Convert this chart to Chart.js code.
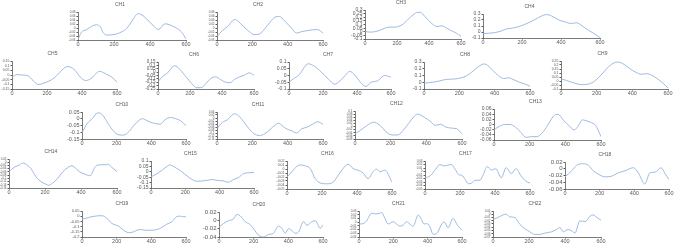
<!doctype html>
<html lang="en">
<head>
<title>Channels</title>
<script src="https://cdn.jsdelivr.net/npm/chart.js"></script>
<style>
  body { margin: 0; background: #fff; width: 678px; height: 251px; position: relative; overflow: hidden; }
  canvas { position: absolute; }
</style>
</head>
<body>
<script>
// channel names
const names = ['CH1','CH2','CH3','CH4','CH5','CH6','CH7','CH8','CH9','CH10','CH11',
               'CH12','CH13','CH14','CH15','CH16','CH17','CH18','CH19','CH20','CH21','CH22'];
const xTicks = [0, 200, 400, 600];

// sample positions and values
const ch1x = [0, 19, 46, 75, 102, 125, 139, 158, 214, 245, 269, 300, 334, 350, 381, 420, 446, 483, 529, 576, 600];
const ch1y = [-0.058, -0.021, -0.009, 0.008, 0.016, 0.005, -0.022, -0.035, -0.030, -0.018, -0.004, 0.035, 0.072, 0.068, 0.046, 0.010, -0.008, 0.021, 0.008, -0.021, -0.055];
const ch2x = [0, 30, 60, 90, 100, 120, 150, 180, 210, 240, 270, 300, 330, 350, 360, 390, 420, 450, 480, 510, 540, 570, 600];
const ch2y = [-0.043, -0.013, 0.007, 0.038, 0.043, 0.034, 0.007, -0.016, -0.033, -0.030, -0.004, 0.029, 0.055, 0.058, 0.055, 0.029, 0.001, -0.025, -0.018, -0.013, -0.009, -0.008, -0.025];
const ch3x = [0, 30, 60, 90, 120, 150, 180, 210, 240, 270, 300, 330, 345, 360, 390, 420, 450, 480, 510, 540, 570, 600];
const ch3y = [0.005, -0.005, 0.0, 0.018, 0.045, 0.064, 0.064, 0.073, 0.109, 0.173, 0.232, 0.268, 0.268, 0.245, 0.173, 0.109, 0.073, 0.082, 0.05, 0.014, -0.018, -0.064];
const ch4x = [0, 30, 60, 90, 120, 150, 180, 210, 240, 270, 300, 320, 330, 360, 390, 420, 450, 480, 510, 540, 570, 600];
const ch4y = [-0.027, -0.021, -0.01, 0.013, 0.052, 0.063, 0.086, 0.12, 0.165, 0.215, 0.266, 0.289, 0.289, 0.255, 0.199, 0.17, 0.142, 0.154, 0.097, 0.03, -0.027, -0.094];
const ch5x = [0, 30, 60, 90, 120, 150, 180, 210, 240, 270, 300, 320, 330, 360, 390, 420, 450, 480, 500, 510, 540, 570, 600];
const ch5y = [-0.022, 0.004, 0.0, -0.007, -0.059, -0.102, -0.088, -0.066, -0.033, 0.022, 0.077, 0.091, 0.088, 0.051, -0.022, -0.059, -0.04, 0.015, 0.04, 0.037, 0.007, -0.022, -0.077];
const ch6x = [0, 30, 60, 90, 100, 120, 150, 180, 210, 240, 270, 300, 330, 360, 390, 420, 450, 480, 510, 540, 570, 600];
const ch6y = [-0.143, -0.06, -0.011, 0.077, 0.096, 0.077, 0.004, -0.084, -0.167, -0.23, -0.23, -0.167, -0.094, -0.07, -0.109, -0.148, -0.157, -0.104, -0.07, -0.045, -0.011, -0.045];
const ch7x = [0, 30, 60, 90, 112, 150, 190, 230, 270, 300, 330, 357, 390, 420, 453, 483, 520, 563, 600];
const ch7y = [-0.05, -0.02, 0.005, 0.06, 0.087, 0.068, 0.025, -0.025, -0.065, -0.04, 0.0, 0.03, 0.0, -0.05, -0.082, -0.05, -0.04, 0.0, -0.012];
const ch8x = [0, 30, 60, 90, 120, 150, 180, 210, 240, 270, 300, 330, 345, 360, 390, 420, 450, 480, 510, 540, 570, 600];
const ch8y = [-0.015, -0.005, 0.005, 0.02, 0.04, 0.045, 0.05, 0.065, 0.095, 0.15, 0.215, 0.265, 0.27, 0.25, 0.175, 0.1, 0.055, 0.065, 0.035, 0.0, -0.025, -0.06];
const ch9x = [0, 30, 60, 90, 120, 150, 180, 210, 240, 270, 300, 315, 330, 360, 390, 420, 450, 480, 510, 540, 570, 600];
const ch9y = [0.028, 0.007, -0.015, -0.036, -0.045, -0.04, -0.015, 0.041, 0.113, 0.186, 0.229, 0.237, 0.233, 0.199, 0.148, 0.109, 0.084, 0.092, 0.071, 0.028, -0.023, -0.087];
const ch10x = [0, 30, 60, 90, 100, 120, 150, 180, 210, 240, 270, 300, 330, 350, 360, 390, 420, 450, 480, 510, 540, 570, 600];
const ch10y = [-0.104, -0.035, 0.001, 0.043, 0.043, 0.026, -0.035, -0.089, -0.118, -0.121, -0.096, -0.048, -0.011, 0.001, -0.004, -0.023, -0.035, -0.04, -0.006, 0.009, 0.001, -0.016, -0.052];
const ch11x = [0, 30, 60, 90, 100, 120, 150, 180, 210, 240, 270, 300, 330, 350, 360, 390, 420, 450, 480, 510, 540, 570, 600];
const ch11y = [-0.07, -0.03, -0.011, 0.024, 0.028, 0.017, -0.023, -0.07, -0.105, -0.117, -0.105, -0.077, -0.046, -0.035, -0.042, -0.07, -0.084, -0.1, -0.072, -0.061, -0.042, -0.025, -0.042];
const ch12x = [0, 30, 60, 90, 100, 120, 150, 180, 210, 240, 270, 300, 330, 350, 360, 390, 420, 450, 480, 510, 540, 570, 600];
const ch12y = [-0.047, -0.025, 0.001, 0.023, 0.028, 0.023, -0.003, -0.04, -0.054, -0.054, -0.025, 0.019, 0.063, 0.08, 0.078, 0.058, 0.036, 0.008, 0.014, -0.003, -0.01, -0.014, -0.047];
const ch13x = [0, 30, 60, 90, 120, 150, 180, 210, 240, 270, 300, 330, 350, 360, 390, 420, 450, 480, 495, 510, 540, 570, 600];
const ch13y = [-0.021, -0.007, 0.0, 0.0, -0.01, -0.03, -0.05, -0.047, -0.047, -0.033, -0.004, 0.029, 0.039, 0.039, 0.016, -0.004, -0.021, 0.003, 0.018, 0.016, 0.009, -0.004, -0.047];
const ch14x = [0, 30, 60, 75, 90, 120, 150, 180, 210, 220, 240, 270, 300, 330, 350, 360, 390, 420, 450, 480, 510, 540, 550, 570, 600];
const ch14y = [-0.058, -0.031, -0.016, -0.005, -0.01, -0.037, -0.09, -0.122, -0.139, -0.143, -0.132, -0.101, -0.058, -0.031, -0.022, -0.027, -0.058, -0.073, -0.084, -0.027, -0.016, -0.016, -0.012, -0.031, -0.058];
const ch15x = [0, 30, 60, 90, 110, 120, 150, 180, 210, 240, 270, 300, 330, 360, 390, 420, 450, 480, 510, 540, 570, 600];
const ch15y = [-0.047, -0.022, 0.009, 0.047, 0.063, 0.059, 0.031, 0.0, -0.038, -0.072, -0.088, -0.084, -0.078, -0.072, -0.081, -0.084, -0.097, -0.072, -0.053, -0.016, -0.009, -0.006];
const ch16x = [0, 28, 57, 76, 104, 133, 161, 190, 228, 264, 292, 320, 349, 378, 406, 435, 463, 492, 511, 530, 559, 600];
const ch16y = [-0.020, -0.007, 0.007, 0.010, 0.008, 0.001, -0.024, -0.035, -0.037, -0.033, -0.016, 0.001, 0.012, 0.001, -0.003, -0.010, -0.024, -0.007, 0.0, -0.007, -0.003, -0.033];
const ch17x = [0, 28, 60, 85, 107, 130, 150, 173, 192, 211, 230, 248, 267, 286, 314, 333, 355, 380, 404, 436, 464, 493, 521, 549, 577, 600];
const ch17y = [-0.018, -0.013, 0.006, 0.020, 0.016, 0.018, 0.020, 0.006, -0.009, -0.011, -0.023, -0.035, -0.033, -0.025, -0.025, -0.009, 0.014, 0.004, 0.008, -0.018, 0.011, -0.006, 0.008, -0.013, -0.028, -0.033];
const ch18x = [0, 38, 67, 106, 135, 163, 192, 231, 269, 308, 346, 394, 423, 460, 490, 520, 554, 577, 600];
const ch18y = [-0.024, -0.006, 0.010, 0.015, 0.010, -0.006, -0.016, -0.024, -0.022, -0.012, -0.006, 0.003, -0.012, -0.045, -0.012, -0.01, 0.003, -0.014, -0.032];
const ch19x = [0, 38, 77, 115, 144, 173, 211, 240, 268, 297, 316, 345, 364, 403, 431, 460, 489, 518, 546, 565, 584, 600];
const ch19y = [-0.031, -0.012, 0.001, 0.005, -0.021, -0.07, -0.096, -0.135, -0.158, -0.151, -0.135, -0.129, -0.135, -0.135, -0.129, -0.109, -0.077, -0.054, -0.005, 0.001, -0.005, -0.005];
const ch20x = [0, 25, 54, 83, 102, 122, 150, 179, 199, 228, 257, 286, 314, 343, 363, 382, 401, 421, 440, 459, 488, 507, 536, 556, 584, 600];
const ch20y = [-0.017, -0.008, -0.001, 0.003, 0.014, 0.011, -0.003, -0.01, -0.02, -0.036, -0.04, -0.034, -0.031, -0.014, -0.019, -0.031, -0.02, -0.025, -0.031, -0.028, -0.003, -0.012, -0.003, -0.001, -0.019, -0.01];
const ch21x = [0, 25, 45, 74, 97, 122, 132, 151, 170, 199, 219, 238, 257, 277, 296, 315, 345, 364, 379, 393, 412, 432, 451, 495, 519, 548, 573, 600];
const ch21y = [-0.005, -0.004, 0.004, 0.024, 0.022, 0.024, 0.026, 0.01, -0.005, 0.001, -0.005, -0.011, -0.008, 0.001, -0.005, -0.011, 0.019, 0.007, -0.005, -0.004, -0.011, -0.033, -0.031, 0.001, -0.015, 0.01, -0.008, -0.022];
const ch22x = [0, 28, 56, 74, 93, 121, 149, 176, 204, 232, 260, 288, 325, 353, 372, 390, 418, 437, 455, 483, 511, 539, 557, 576, 600];
const ch22y = [-0.016, -0.01, -0.002, 0.0, -0.008, -0.01, -0.031, -0.044, -0.054, -0.062, -0.062, -0.058, -0.054, -0.047, -0.041, -0.054, -0.047, -0.051, -0.058, -0.02, -0.023, -0.006, -0.002, -0.01, -0.018];

const seriesX = [ch1x, ch2x, ch3x, ch4x, ch5x, ch6x, ch7x, ch8x, ch9x, ch10x, ch11x, ch12x, ch13x, ch14x, ch15x, ch16x, ch17x, ch18x, ch19x, ch20x, ch21x, ch22x];
const seriesY = [ch1y, ch2y, ch3y, ch4y, ch5y, ch6y, ch7y, ch8y, ch9y, ch10y, ch11y, ch12y, ch13y, ch14y, ch15y, ch16y, ch17y, ch18y, ch19y, ch20y, ch21y, ch22y];

// y axis: min, max, step
const yAxes = [
  [-0.06, 0.08, 0.02], [-0.06, 0.08, 0.02], [-0.1, 0.3, 0.05], [-0.1, 0.3, 0.1],
  [-0.15, 0.15, 0.05], [-0.25, 0.15, 0.05], [-0.1, 0.1, 0.05], [-0.1, 0.3, 0.1], [-0.1, 0.25, 0.05],
  [-0.15, 0.05, 0.05], [-0.14, 0.04, 0.02], [-0.08, 0.1, 0.02], [-0.06, 0.06, 0.02],
  [-0.16, 0.02, 0.02], [-0.15, 0.1, 0.05], [-0.05, 0.02, 0.01], [-0.05, 0.03, 0.01], [-0.06, 0.02, 0.02],
  [-0.2, 0.05, 0.05], [-0.04, 0.02, 0.02], [-0.04, 0.03, 0.01], [-0.07, 0.01, 0.01]
];

// plot area in the page: left, right, top, bottom
const plotBoxes = [
  [78, 186, 11.7, 39.3], [217, 323, 11.7, 39.3], [365, 461, 10, 39], [483, 600, 14, 37.7],
  [12, 117, 61, 89], [158, 254, 61.7, 89], [289, 391, 61.7, 88.5], [424, 530, 61.7, 89], [561, 668, 61, 88.5],
  [82, 186, 111.7, 139], [217, 323, 111.7, 138.5], [355, 462, 111, 138.5], [494, 601, 108.7, 139.3],
  [9, 117, 159.3, 188.3], [151, 254, 161, 188.3], [287, 392, 161, 188.5], [425, 530, 161, 188.5], [565, 669, 161.7, 189],
  [82, 186, 211, 237], [219, 323, 211.7, 236.5], [359, 462, 211, 237], [493, 601, 211, 237]
];
const yFontSizes = [3, 3, 5, 5, 3.5, 4.5, 5, 5, 3.5, 5.5, 3, 3, 5, 3, 5, 3.5, 3, 6, 4, 6, 3, 3];

const axisColor = '#595959';
const lineColor = '#92b3de';
const fontFamily = '"Liberation Sans", Arial, sans-serif';
const yW = 24, titleH = 10, xH = 10, padR = 7;

names.forEach((name, i) => {
  const [l, r, t, b] = plotBoxes[i];
  const [yMin, yMax, yStep] = yAxes[i];
  const canvas = document.createElement('canvas');
  const w = Math.round(r - l + yW + padR);
  const h = Math.round(b - t + titleH + xH);
  canvas.width = w;
  canvas.height = h;
  canvas.style.left = Math.round(l - yW) + 'px';
  canvas.style.top = Math.round(t - titleH) + 'px';
  document.body.appendChild(canvas);

  new Chart(canvas, {
    type: 'line',
    data: {
      datasets: [{
        data: seriesX[i].map((x, k) => ({ x: x, y: seriesY[i][k] })),
        borderColor: lineColor,
        borderWidth: 0.9,
        pointRadius: 0,
        cubicInterpolationMode: 'monotone',
        fill: false
      }]
    },
    options: {
      responsive: false,
      devicePixelRatio: 1,
      animation: false,
      layout: { padding: { left: 0, right: padR, top: 0, bottom: 0 } },
      plugins: {
        legend: { display: false },
        tooltip: { enabled: false },
        title: {
          display: true,
          text: name,
          color: axisColor,
          font: { family: fontFamily, size: 5, weight: 'normal' },
          padding: { top: 0, bottom: 4 }
        }
      },
      scales: {
        x: {
          type: 'linear',
          min: 0,
          max: 600,
          afterBuildTicks: s => { s.ticks = xTicks.map(v => ({ value: v })); },
          afterFit: s => { s.height = xH; },
          ticks: { color: axisColor, font: { family: fontFamily, size: 5.5 }, padding: 0, maxRotation: 0 },
          grid: { display: true, drawOnChartArea: false, drawTicks: true, tickLength: 1.5, color: axisColor },
          border: { display: true, color: axisColor, width: 0.8 }
        },
        y: {
          min: yMin,
          max: yMax,
          afterFit: s => { s.width = yW; },
          ticks: {
            stepSize: yStep,
            autoSkip: false,
            color: axisColor,
            padding: 1,
            font: { family: fontFamily, size: yFontSizes[i] },
            callback: v => String(+v.toFixed(3))
          },
          grid: { display: true, drawOnChartArea: false, drawTicks: true, tickLength: 1.5, color: axisColor },
          border: { display: true, color: axisColor, width: 0.8 }
        }
      }
    }
  });
});
</script>
</body>
</html>
